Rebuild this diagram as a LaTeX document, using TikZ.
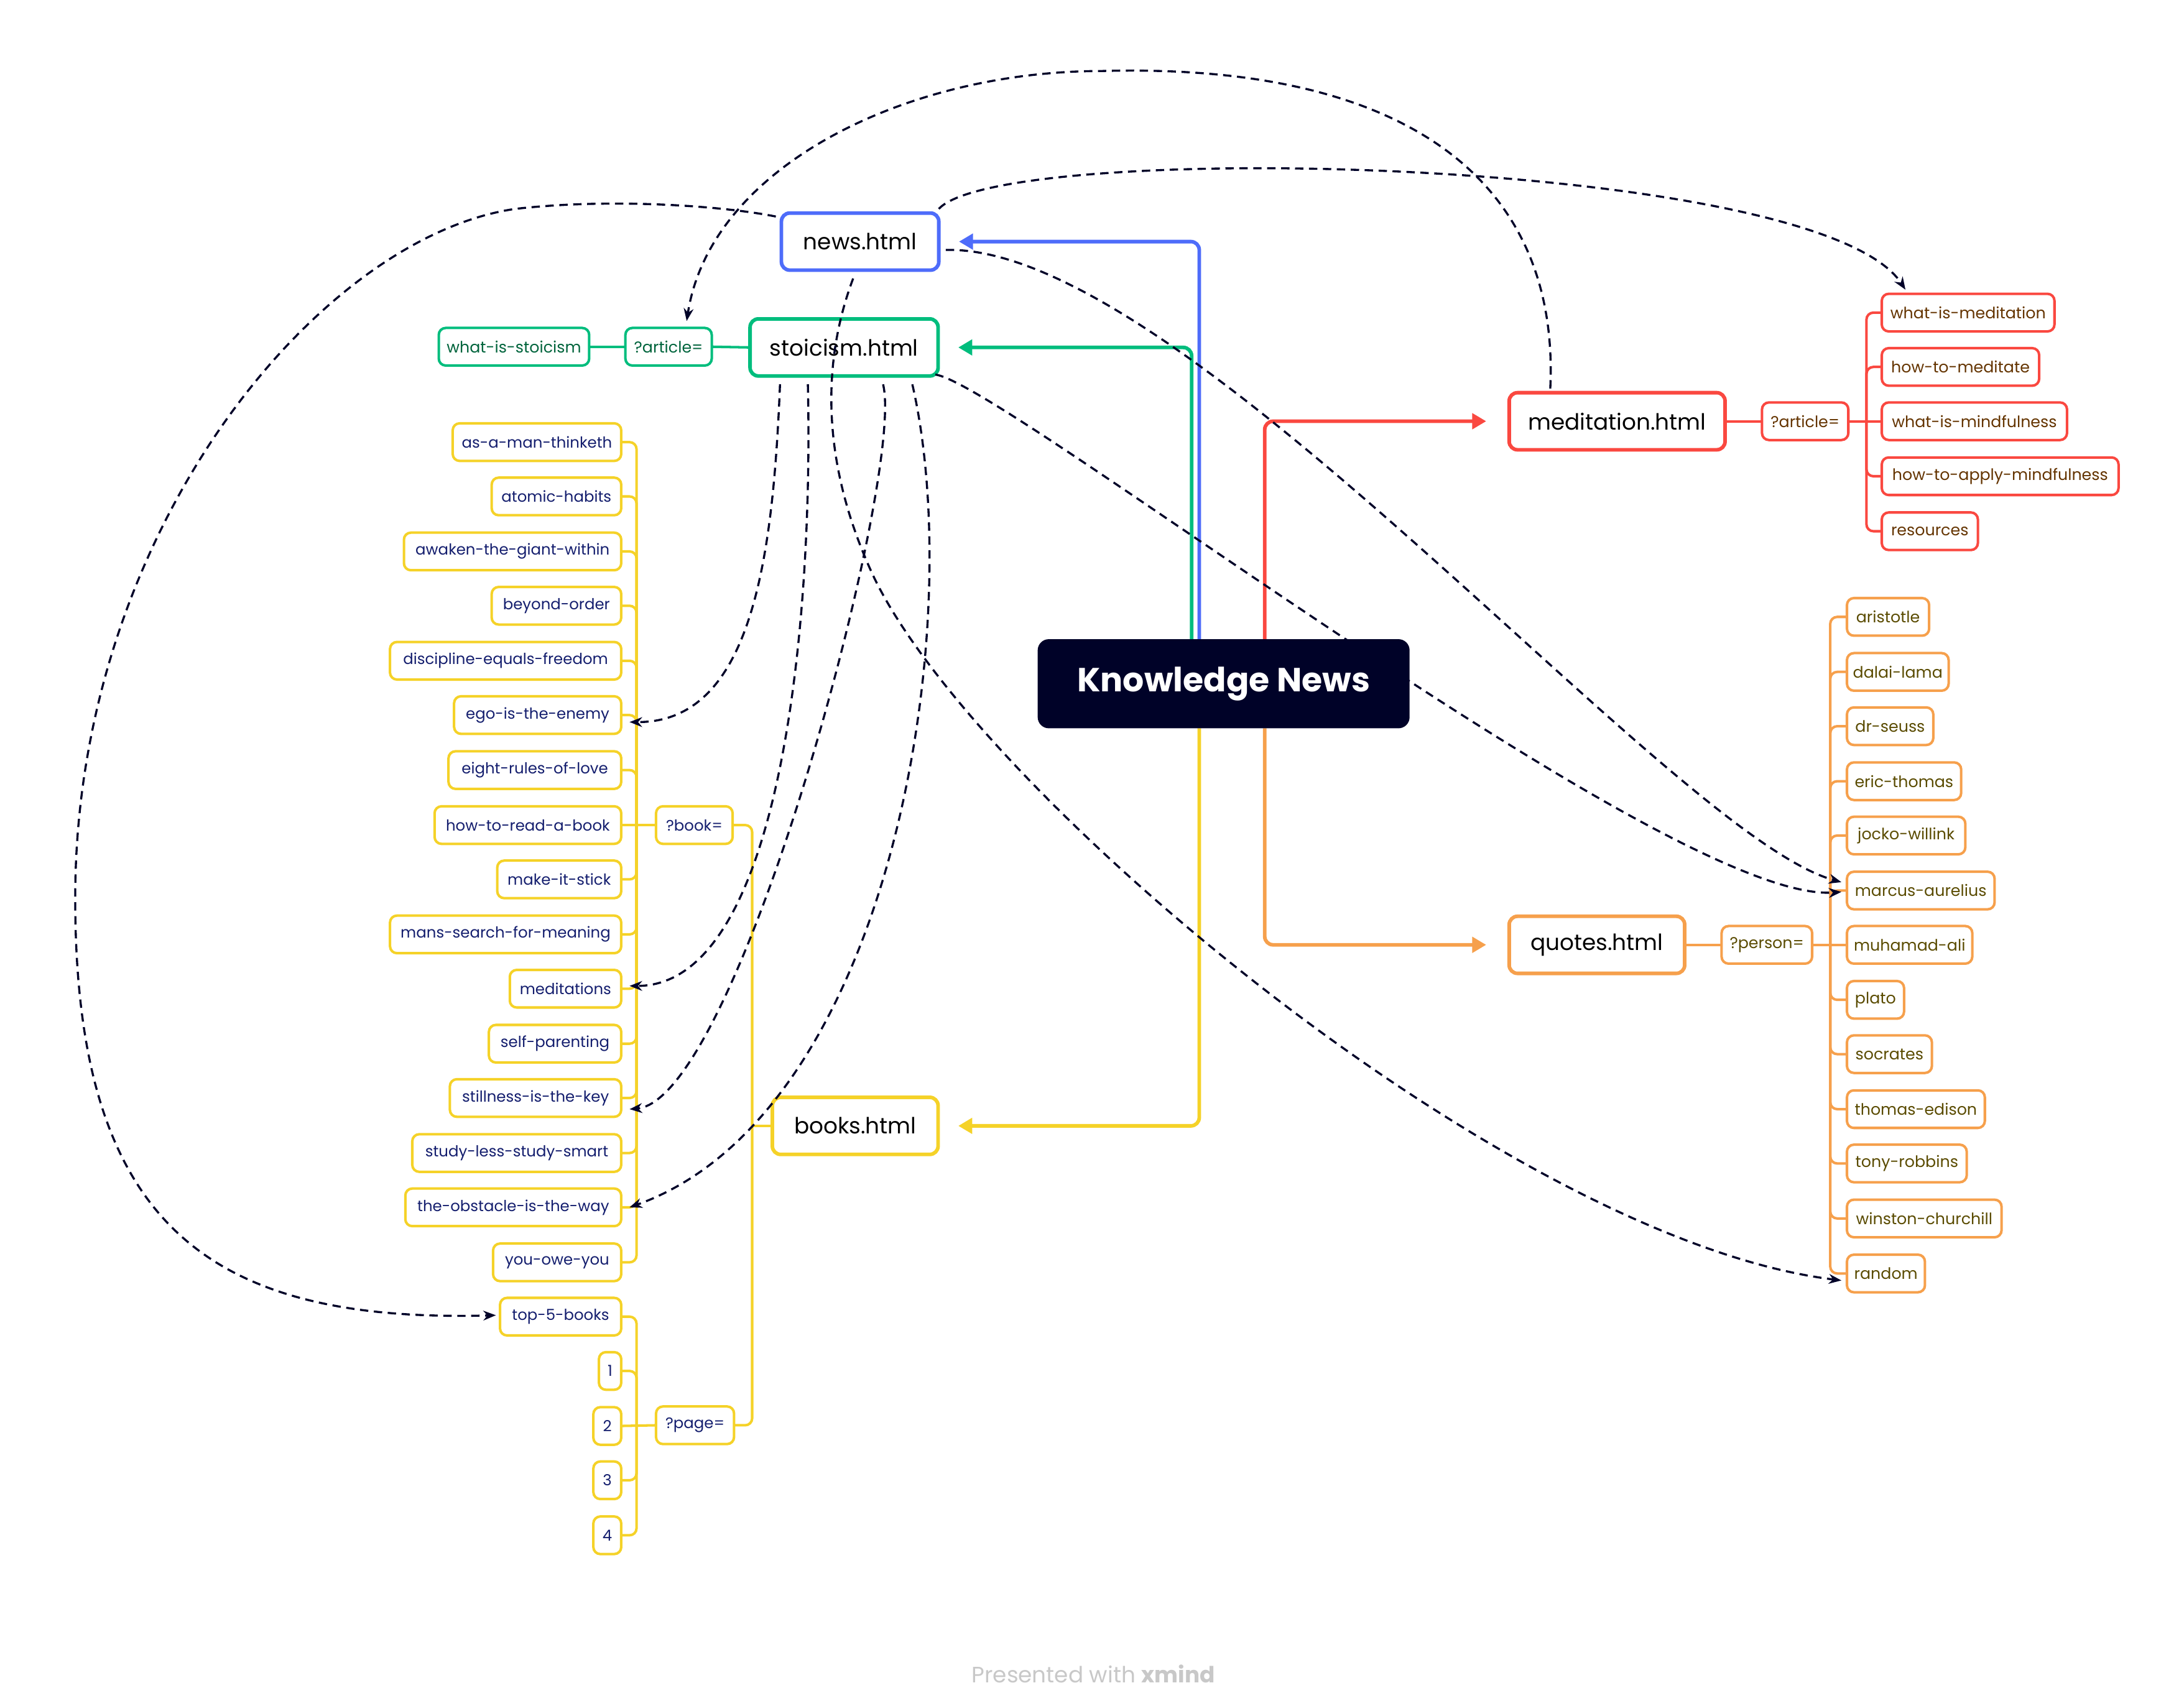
\documentclass[tikz,border=0pt]{standalone}
\usepackage{fontspec}
\setmainfont{Poppins}
\usetikzlibrary{arrows.meta,calc}
\definecolor{navy}{RGB}{0,2,40}
\definecolor{cblue}{RGB}{78,108,250}
\definecolor{cgreen}{RGB}{0,189,125}
\definecolor{cred}{RGB}{250,72,64}
\definecolor{corange}{RGB}{246,160,76}
\definecolor{cyellow}{RGB}{245,210,40}
\definecolor{tgreen}{RGB}{0,100,60}
\definecolor{tnavy}{RGB}{20,30,110}
\definecolor{tbrown}{RGB}{100,52,0}
\definecolor{tolive}{RGB}{90,75,0}
\definecolor{footgray}{RGB}{200,200,200}
\pgfdeclarelayer{background}
\pgfdeclarelayer{foreground}
\pgfsetlayers{background,main,foreground}

\begin{document}
\begin{tikzpicture}[x=1pt,y=-1pt,
  mainbox/.style={draw, line width=2.6pt, rounded corners=6pt, fill=white,
    minimum height=41pt, inner sep=0pt, outer sep=0pt,
    font=\fontsize{16}{18}\selectfont, text=black},
  leaf/.style={draw, line width=1.8pt, rounded corners=5pt, fill=white,
    minimum height=27pt, inner sep=0pt, outer sep=0pt,
    font=\fontsize{11.3}{13}\selectfont},
  stl/.style={leaf, draw=cgreen, text=tgreen},
  bk/.style={leaf, draw=cyellow, text=tnavy, anchor=east, font=\fontsize{10.9}{13}\selectfont},
  bkp/.style={leaf, draw=cyellow, text=tnavy, font=\fontsize{10.9}{13}\selectfont},
  md/.style={leaf, draw=cred, text=tbrown, anchor=west},
  mdp/.style={leaf, draw=cred, text=tbrown},
  qt/.style={leaf, draw=corange, text=tolive, anchor=west},
  qtp/.style={leaf, draw=corange, text=tolive},
  trunk/.style={line width=2.6pt, rounded corners=6pt, -{Triangle[length=10pt,width=11pt]}},
  twig/.style={line width=1.8pt, rounded corners=5pt},
  xref/.style={draw=navy, line width=1.5pt, dash pattern=on 6pt off 4pt,
    -{Stealth[length=9pt,width=7pt]}}
]
\useasboundingbox (0,0) rectangle (1568,1225);

% central topic, kept above every link
\begin{pgfonlayer}{foreground}
\node[fill=navy, rounded corners=8pt, minimum width=267pt, minimum height=64pt,
  inner sep=0pt, outer sep=0pt, text=white,
  font=\fontsize{24}{28}\selectfont\bfseries] (kn) at (878.5,491) {Knowledge News};
\end{pgfonlayer}

% page topics
\node[mainbox, draw=cblue, minimum width=113pt] (news) at (617.5,173.5) {news.html};
\node[mainbox, draw=cgreen, minimum width=135pt] (stoic) at (606,249.5) {stoicism.html};
\node[mainbox, draw=cred, minimum width=155pt] (med) at (1161,302.5) {meditation.html};
\node[mainbox, draw=corange, minimum width=126pt] (quotes) at (1146.5,678.5) {quotes.html};
\node[mainbox, draw=cyellow, minimum width=119pt] (books) at (614,808.5) {books.html};

% stoicism.html parameters
\node[stl, minimum width=62pt] (qart) at (480,249) {?article=};
\node[stl, minimum width=108pt] (wis) at (369,249) {what-is-stoicism};

% books.html parameters
\node[bkp, minimum width=55pt] (qbook) at (498.5,592.5) {?book=};
\node[bkp, minimum width=56pt] (qpage) at (499,1023.5) {?page=};
\node[bk, minimum width=121pt] (b1) at (446,317.5) {as-a-man-thinketh};
\node[bk, minimum width=93pt] (b2) at (446,356.5) {atomic-habits};
\node[bk, minimum width=156pt] (b3) at (446,396) {awaken-the-giant-within};
\node[bk, minimum width=93pt] (b4) at (446,435) {beyond-order};
\node[bk, minimum width=166pt] (b5) at (446,474.5) {discipline-equals-freedom};
\node[bk, minimum width=120pt] (b6) at (446,513.5) {ego-is-the-enemy};
\node[bk, minimum width=124pt] (b7) at (446,553) {eight-rules-of-love};
\node[bk, minimum width=134pt] (b8) at (446,592.5) {how-to-read-a-book};
\node[bk, minimum width=89pt] (b9) at (446,631.5) {make-it-stick};
\node[bk, minimum width=166pt] (b10) at (446,671) {mans-search-for-meaning};
\node[bk, minimum width=80pt] (b11) at (446,710) {meditations};
\node[bk, minimum width=95pt] (b12) at (446,749.5) {self-parenting};
\node[bk, minimum width=123pt] (b13) at (446,788.5) {stillness-is-the-key};
\node[bk, minimum width=150pt] (b14) at (446,828) {study-less-study-smart};
\node[bk, minimum width=155pt] (b15) at (446,867) {the-obstacle-is-the-way};
\node[bk, minimum width=92pt] (b16) at (446,906.5) {you-owe-you};
\node[bk, minimum width=87pt] (p0) at (446,945.5) {top-5-books};
\node[bk, minimum width=16pt] (p1) at (446,984.5) {1};
\node[bk, minimum width=20pt] (p2) at (446,1024) {2};
\node[bk, minimum width=20pt] (p3) at (446,1063) {3};
\node[bk, minimum width=20pt] (p4) at (446,1102.5) {4};

% meditation.html parameters
\node[mdp, minimum width=62pt] (qart2) at (1296,302.5) {?article=};
\node[md, minimum width=124pt] (m1) at (1351,224.5) {what-is-meditation};
\node[md, minimum width=113pt] (m2) at (1351,263.5) {how-to-meditate};
\node[md, minimum width=133pt] (m3) at (1351,302.5) {what-is-mindfulness};
\node[md, minimum width=170pt] (m4) at (1351,342) {how-to-apply-mindfulness};
\node[md, minimum width=69pt] (m5) at (1351,381.5) {resources};

% quotes.html parameters
\node[qtp, minimum width=65pt] (qper) at (1268.5,678.5) {?person=};
\node[qt, minimum width=59pt] (q1) at (1326,443) {aristotle};
\node[qt, minimum width=73pt] (q2) at (1326,482.5) {dalai-lama};
\node[qt, minimum width=62pt] (q3) at (1326,521.5) {dr-seuss};
\node[qt, minimum width=82pt] (q4) at (1326,561) {eric-thomas};
\node[qt, minimum width=85pt] (q5) at (1326,600) {jocko-willink};
\node[qt, minimum width=106pt] (marc) at (1326,639.5) {marcus-aurelius};
\node[qt, minimum width=90pt] (q7) at (1326,678.5) {muhamad-ali};
\node[qt, minimum width=41pt] (q8) at (1326,718) {plato};
\node[qt, minimum width=61pt] (q9) at (1326,757) {socrates};
\node[qt, minimum width=99pt] (q10) at (1326,796.5) {thomas-edison};
\node[qt, minimum width=86pt] (q11) at (1326,835.5) {tony-robbins};
\node[qt, minimum width=111pt] (q12) at (1326,875) {winston-churchill};
\node[qt, minimum width=56pt] (rnd) at (1326,914.5) {random};

% junction points of the brackets
\coordinate (bkj) at (457,592.5);
\coordinate (pgj) at (457,1024);
\coordinate (bj) at (540,808.5);
\coordinate (mj) at (1340,302.5);
\coordinate (qj) at (1314,678.5);

\begin{pgfonlayer}{background}
\fill[white] (0,0) rectangle (1568,1225);
% branches from the central topic
\draw[trunk, cblue]
  ($(kn.north)+(-17.5,0)$) |- ($(news.east)+(14.5,0)$);
\draw[trunk, cgreen]
  ($(kn.north)+(-23,0)$) |- ($(stoic.east)+(14.5,0)$);
\draw[trunk, cred]
  ($(kn.north)+(29.5,0)$) |- ($(med.west)+(-16.5,0)$);
\draw[trunk, corange]
  ($(kn.south)+(29.5,0)$) |- ($(quotes.west)+(-16.5,0)$);
\draw[trunk, cyellow]
  ($(kn.south)+(-17.5,0)$) |- ($(books.east)+(14.5,0)$);

% stoicism.html
\draw[twig, cgreen] (stoic.west) -- (qart.east);
\draw[twig, cgreen] (qart.west) -- (wis.east);

% books.html
\draw[twig, cyellow] (books.west) -- (bj);
\draw[twig, cyellow] (qbook.east) -| (bj);
\draw[twig, cyellow] (qpage.east) -| (bj);
\foreach \n in {b1,b2,b3,b4,b5,b6,b7,b9,b10,b11,b12,b13,b14,b15,b16}
  \draw[twig, cyellow] (\n.east) -| (bkj);
\draw[twig, cyellow] (b8.east) -- (qbook.west);
\foreach \n in {p0,p1,p3,p4}
  \draw[twig, cyellow] (\n.east) -| (pgj);
\draw[twig, cyellow] (p2.east) -- (qpage.west);

% meditation.html
\draw[twig, cred] (med.east) -- (qart2.west);
\draw[twig, cred] (qart2.east) -- (m3.west);
\foreach \n in {m1,m2,m4,m5}
  \draw[twig, cred] (\n.west) -| (mj);

% quotes.html
\draw[twig, corange] (quotes.east) -- (qper.west);
\draw[twig, corange] (qper.east) -- (q7.west);
\foreach \n in {q1,q2,q3,q4,q5,marc,q8,q9,q10,q11,q12,rnd}
  \draw[twig, corange] (\n.west) -| (qj);
\end{pgfonlayer}

% cross links
\draw[xref] ($(news.north east)+(0,-3)$)
  .. controls (720,100) and (1305,112) .. ($(m1.north west)+(17,-3)$);
\draw[xref] ($(med.north)+(-48,-3)$)
  .. controls (1120,130) and (1010,45) .. (791,51)
  .. controls (650,51) and (510,120) .. ($(qart.north)+(13,-5)$);
\draw[xref] ($(news.west)+(-4,-18)$)
  .. controls (520,148) and (440,142) .. (370,150)
  .. controls (230,170) and (54,380) .. (54,645)
  .. controls (54,880) and (150,950) .. ($(p0.west)+(-3,-1)$);
\draw[xref] ($(news.south)+(-5,6)$)
  .. controls (590,260) and (590,330) .. (624,407)
  .. controls (690,560) and (1080,890) .. ($(rnd.west)+(-4,5)$);
\draw[xref] ($(news.east)+(5,6)$)
  .. controls (850,175) and (1200,600) .. ($(marc.west)+(-4,-6)$);
\draw[xref] ($(stoic.south east)+(-2,-1)$)
  .. controls (720,275) and (1200,650) .. ($(marc.west)+(-4,1)$);
\draw[xref] ($(stoic.south)+(-46,6)$)
  .. controls (555,400) and (540,519) .. ($(b6.east)+(6,5)$);
\draw[xref] ($(stoic.south)+(-26,6)$)
  .. controls (584,450) and (560,708) .. ($(b11.east)+(6,-2)$);
\draw[xref] ($(stoic.south)+(28,6)$)
  .. controls (650,340) and (530,790) .. ($(b13.east)+(6,8)$);
\draw[xref] ($(stoic.south)+(49,6)$)
  .. controls (695,450) and (640,800) .. ($(b15.east)+(6,0)$);

% footer
\node[text=footgray, font=\fontsize{16}{18}\selectfont] (foot) at (785,1202)
  {Presented with \textbf{xmind}};
\end{tikzpicture}
\end{document}
